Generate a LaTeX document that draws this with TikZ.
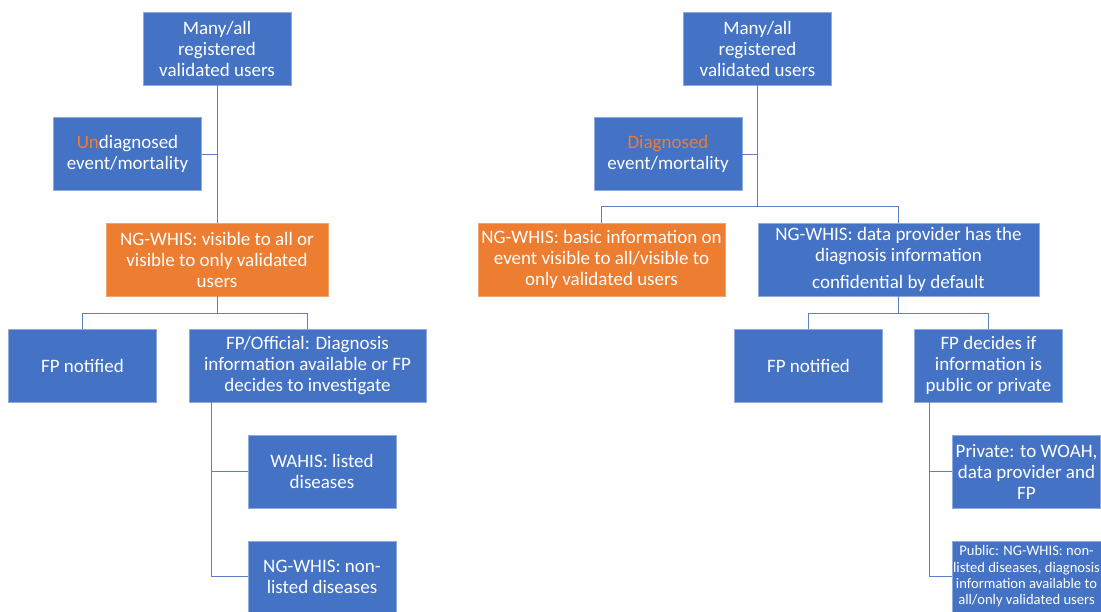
\documentclass[tikz,border=0pt]{standalone}
\usepackage{fontspec}
\setmainfont{Carlito}
\usetikzlibrary{calc}
\definecolor{boxblue}{HTML}{4472C4}
\definecolor{boxorange}{HTML}{ED7D31}
\definecolor{boxedge}{HTML}{8FAADC}
\definecolor{linkblue}{HTML}{5B80C8}
\begin{document}
\begin{tikzpicture}[x=1pt,y=-1pt,
  box/.style={fill=boxblue,draw=boxedge,line width=0.6pt,text=white,align=center,
    minimum width=148pt,minimum height=73pt,inner sep=1pt,
    font=\fontsize{19}{21}\selectfont},
  obox/.style={box,fill=boxorange,draw=boxorange!70!white},
  link/.style={draw=linkblue,line width=0.9pt}]
\useasboundingbox (0,0) rectangle (1101,612);
% ---------- left tree ----------
\node[box] (lt) at (217,48.5) {Many/all\\registered\\validated users};
\node[box] (lu) at (127.5,154) {\textcolor{boxorange}{Un}diagnosed\\event/mortality};
\node[obox,minimum width=222pt] (lo) at (217,259.5) {NG-WHIS: visible to all or\\visible to only validated\\users};
\node[box] (lfpn) at (82.5,365.5) {FP notified};
\node[box,minimum width=237pt] (lfpo) at (307.5,365.5) {FP/Official: Diagnosis\\information available or FP\\decides to investigate};
\node[box] (lwah) at (322,471.5) {WAHIS: listed\\diseases};
\node[box,minimum height=71pt] (lngl) at (322,576.5) {NG-WHIS: non-\\listed diseases};
\draw[link] (lt.south) -- (lo.north);
\draw[link] (lu.east) -- (lu.east -| lt.south);
\draw[link] (lo.south) -- ++(0,17) -| (lfpn.north);
\draw[link] (lo.south) -- ++(0,17) -| (lfpo.north);
\draw[link] ([xshift=23pt]lfpo.south west) |- (lwah.west);
\draw[link] ([xshift=23pt]lfpo.south west) |- (lngl.west);
% ---------- right tree ----------
\node[box] (rt) at (757.5,48.5) {Many/all\\registered\\validated users};
\node[box] (rdg) at (668,154) {\textcolor{boxorange}{Diagnosed}\\event/mortality};
\node[obox,minimum width=247pt] (ro) at (601.5,259.5) {NG-WHIS: basic information on\\event visible to all/visible to\\only validated users};
\node[box,minimum width=281pt] (rd) at (898.5,259.5) {NG-WHIS: data provider has the\\diagnosis information\\[6pt]confidential by default};
\node[box] (rfpn) at (808.5,365.5) {FP notified};
\node[box] (rfpd) at (988.5,365.5) {FP decides if\\information is\\public or private};
\node[box] (rpri) at (1026.5,471.5) {Private: to WOAH,\\data provider and\\FP};
\node[box,minimum height=71pt,font=\fontsize{14.6}{16.3}\selectfont] (rpub) at (1026.5,576.5) {Public: NG-WHIS: non-\\listed diseases, diagnosis\\information available to\\all/only validated users};
\draw[link] (rt.south) -- ++(0,121) -| (ro.north);
\draw[link] (rt.south) -- ++(0,121) -| (rd.north);
\draw[link] (rdg.east) -- (rdg.east -| rt.south);
\draw[link] (rd.south) -- ++(0,17) -| (rfpn.north);
\draw[link] (rd.south) -- ++(0,17) -| (rfpd.north);
\draw[link] ([xshift=15pt]rfpd.south west) |- (rpri.west);
\draw[link] ([xshift=15pt]rfpd.south west) |- (rpub.west);
\end{tikzpicture}
\end{document}
